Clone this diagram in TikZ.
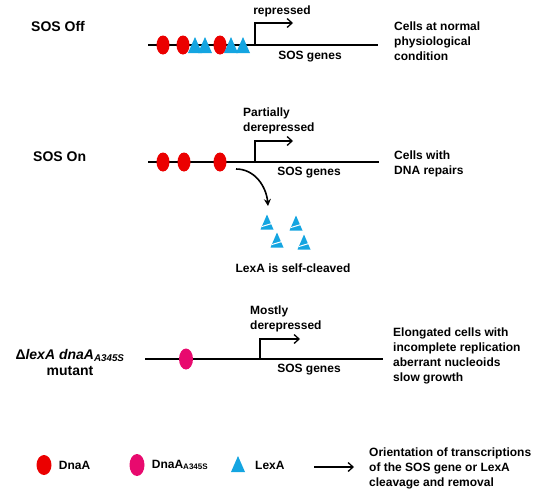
\documentclass[tikz,border=0pt]{standalone}
\usepackage{fontspec}
\setmainfont{Liberation Sans}
\usepackage{xcolor}
\usepackage{tikz}
\definecolor{dnared}{RGB}{235, 0, 0}
\definecolor{mutpink}{RGB}{232, 10, 110}
\definecolor{lexblue}{RGB}{20, 165, 225}
\usetikzlibrary{arrows.meta,positioning,shapes.geometric}

\begin{document}
\begin{tikzpicture}[x=1pt, y=-1pt, every node/.style={font=\bfseries\fontsize{12}{15}\selectfont, inner sep=0pt}]
    % Define styles
    \tikzstyle{dna} = [line width=2.6pt]
    \tikzstyle{dnaa} = [ellipse, fill=dnared, minimum width=13pt, minimum height=19pt]
    \tikzstyle{dnamut} = [ellipse, fill=mutpink, minimum width=14pt, minimum height=21pt]
    \tikzstyle{promoter} = [-{Straight Barb[length=5pt,width=9pt]}, line width=1.3pt]
    \tikzstyle{info} = [anchor=west, align=left]
    \tikzstyle{state} = [font=\bfseries\fontsize{14}{16}\selectfont]
    \tikzset{lexa/.pic={\fill[lexblue] (-7,0) -- (7,0) -- (0,-16) -- cycle;},
             cutlexa/.pic={\fill[lexblue] (-6.5,0) -- (6.5,0) -- (0,-15) -- cycle;
                           \draw[white, line width=1pt] (-5,-3) -- (6.5,-6.5);}}

    \useasboundingbox (0,0) rectangle (553,498);

    % Row 1: SOS Off
    \node[state, anchor=west] (off) at (31,26) {SOS Off};
    \coordinate (dna1s) at (148,45);
    \coordinate (dna1e) at (378,45);
    \draw[dna] (dna1s) -- (dna1e);
    \node[dnaa] (off1) at (163,45) {};
    \node[dnaa] (off2) at (183,45) {};
    \node[dnaa] (off3) at (220,45) {};
    \pic at (195,53) {lexa};
    \pic at (205,53) {lexa};
    \pic at (231,53) {lexa};
    \pic at (243,53) {lexa};
    \coordinate (prom1) at (255,45);
    \coordinate (tip1) at (293,23);
    \draw[promoter] (prom1) |- (tip1);
    \node (rep) at (282,11) {repressed};
    \node (genes1) at (310,57) {SOS genes};
    \node[info] (cells1) at (394,41.5) {Cells at normal\\physiological\\condition};

    % Row 2: SOS On
    \node[state, anchor=west] (on) at (33,157) {SOS On};
    \coordinate (dna2s) at (148,162);
    \coordinate (dna2e) at (379,162);
    \draw[dna] (dna2s) -- (dna2e);
    \node[dnaa] (on1) at (163,162) {};
    \node[dnaa] (on2) at (184,162) {};
    \node[dnaa] (on3) at (220,162) {};
    \coordinate (prom2) at (255,162);
    \coordinate (tip2) at (293,141);
    \draw[promoter] (prom2) |- (tip2);
    \node[info] (partial) at (243,121) {Partially\\derepressed};
    \node (genes2) at (309,173) {SOS genes};
    \node[info] (cells2) at (394,163.5) {Cells with\\DNA repairs};

    % LexA removed from the DNA
    \coordinate (cleave) at (236,169);
    \coordinate (free) at (268,206);
    \draw[-{Stealth[length=7pt,width=7pt]}, line width=1.6pt] (cleave) to[out=0, in=95] (free);
    \pic at (267,229.5) {cutlexa};
    \pic at (296,230.5) {cutlexa};
    \pic at (277,247.5) {cutlexa};
    \pic at (304,249.5) {cutlexa};
    \node (selfcut) at (293,268) {LexA is self-cleaved};

    % Row 3: mutant
    \node[state, align=center] (mutant) at (70,362) {Δ\textit{lexA dnaA}\textsubscript{\textit{A345S}}\\mutant};
    \coordinate (dna3s) at (145,359);
    \coordinate (dna3e) at (383,359);
    \draw[dna] (dna3s) -- (dna3e);
    \node[dnamut] (mut1) at (186,359) {};
    \coordinate (prom3) at (260,359);
    \coordinate (tip3) at (300,339);
    \draw[promoter] (prom3) |- (tip3);
    \node[info] (mostly) at (250,319) {Mostly\\derepressed};
    \node (genes3) at (309,370) {SOS genes};
    \node[info] (cells3) at (393,355.5) {Elongated cells with\\incomplete replication\\aberrant nucleoids\\slow growth};

    % Legend
    \node[dnaa, minimum width=15pt, minimum height=20pt] (keya) at (44,465) {};
    \node[right=7pt of keya] (keyatext) {DnaA};
    \node[dnamut, minimum width=15pt, minimum height=22pt] (keymut) at (137,465) {};
    \node[right=7pt of keymut] (keymuttext) {DnaA\textsubscript{A345S}};
    \pic at (238,472) {lexa};
    \node[anchor=west] (keylexa) at (255,465) {LexA};
    \coordinate (keyarrs) at (314,467);
    \coordinate (keyarre) at (354,467);
    \draw[promoter] (keyarrs) -- (keyarre);
    \node[info] (keyarrtext) at (369,468) {Orientation of transcriptions\\of the SOS gene or LexA\\cleavage and removal};
\end{tikzpicture}
\end{document}
